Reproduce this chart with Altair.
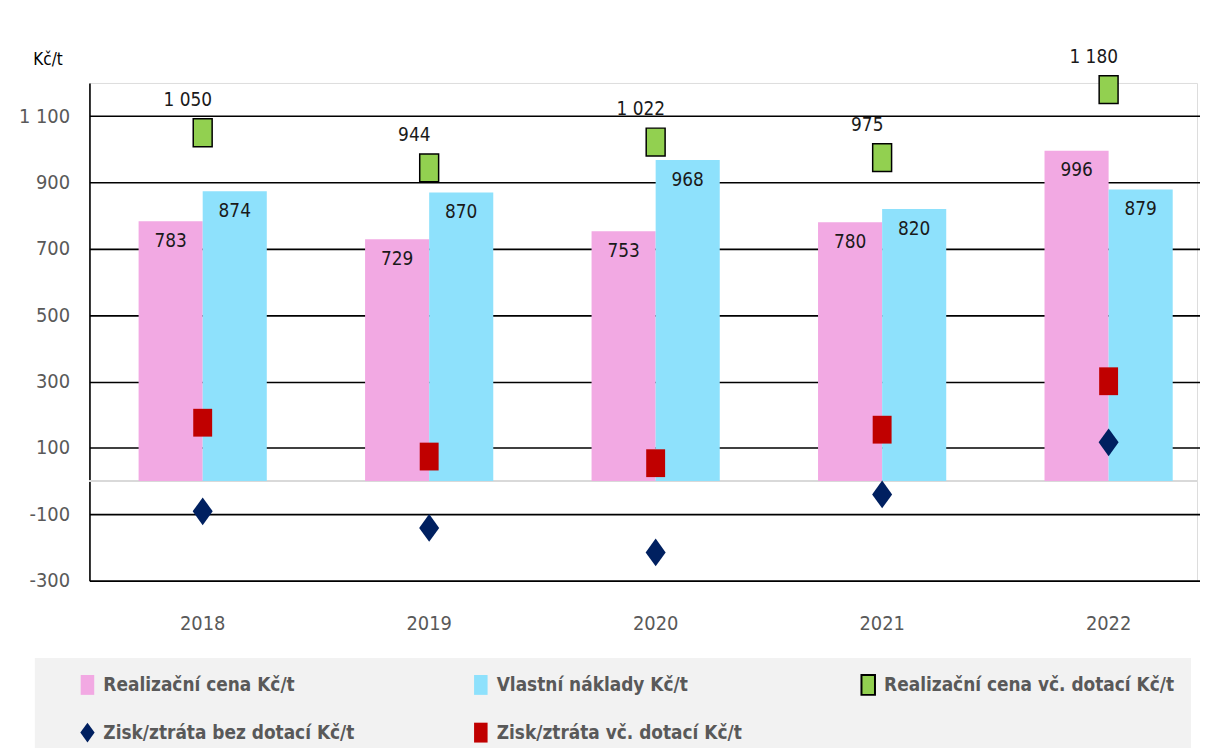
import altair as alt
import pandas as pd

years = ["2018", "2019", "2020", "2021", "2022"]
realizacni_cena = [783, 729, 753, 780, 996]
vlastni_naklady = [874, 870, 968, 820, 879]
realizacni_cena_dotace = [1050, 944, 1022, 975, 1180]
zisk_bez_dotaci = [-91, -141, -215, -40, 117]
zisk_vc_dotaci = [176, 74, 54, 155, 301]

series_names = [
    "Realizační cena Kč/t",
    "Vlastní náklady Kč/t",
    "Realizační cena vč. dotací Kč/t",
    "Zisk/ztráta bez dotací Kč/t",
    "Zisk/ztráta vč. dotací Kč/t",
]
series_values = [realizacni_cena, vlastni_naklady, realizacni_cena_dotace,
                 zisk_bez_dotaci, zisk_vc_dotaci]

rows = []
for name, vals in zip(series_names, series_values):
    for y, v in zip(years, vals):
        rows.append({"rok": y, "serie": name, "hodnota": v})
df = pd.DataFrame(rows)

colors = ["#F2A9E3", "#8EE1FC", "#92D050", "#002060", "#C00000"]
rect = "M-0.68,-1H0.68V1H-0.68Z"
diamond = "M0,-1L0.72,0L0,1L-0.72,0Z"
shapes = [rect, rect, rect, diamond, rect]
strokes = ["transparent", "transparent", "#000000", "transparent", "transparent"]

# legend is laid out column by column: reorder so rows read as in the original
legend_order = [0, 3, 1, 4, 2]
leg_domain = [series_names[i] for i in legend_order]
leg_colors = [colors[i] for i in legend_order]
leg_shapes = [shapes[i] for i in legend_order]
leg_strokes = [strokes[i] for i in legend_order]

FONT = "'Liberation Sans Narrow', 'DejaVu Sans Condensed', 'Roboto Condensed', Roboto, sans-serif"
GRAY = "#595959"
NUMFMT = "replace(replace(format(datum.value, ','), ',', ' '), '\u2212', '-')"

xscale = alt.Scale(domain=years, range=[0, 1140], paddingInner=0.434, paddingOuter=0.217)
yscale = alt.Scale(domain=[-300, 1200], nice=False, zero=False)

color_enc = alt.Color(
    "serie:N",
    scale=alt.Scale(domain=leg_domain, range=leg_colors),
    legend=alt.Legend(
        title="\u00a0", titleOrient="left", titlePadding=26,
        orient="none", legendX=-55, legendY=579,
        columns=3, columnPadding=116, rowPadding=20,
        fillColor="#F2F2F2", padding=16,
        labelFont=FONT, labelFontSize=19, labelFontWeight="bold", labelColor=GRAY,
        labelOffset=5, symbolSize=400, symbolStrokeWidth=2, labelLimit=400,
    ),
)
shape_enc = alt.Shape("serie:N", scale=alt.Scale(domain=leg_domain, range=leg_shapes))
stroke_enc = alt.Stroke("serie:N", scale=alt.Scale(domain=leg_domain, range=leg_strokes))

base = alt.Chart(df)

bars_df = base.transform_filter(
    alt.FieldOneOfPredicate(field="serie", oneOf=series_names[:2])
)
xoff = alt.XOffset("serie:N", scale=alt.Scale(domain=series_names[:2], paddingInner=0, paddingOuter=0))

zero_rule = alt.Chart(df).mark_rule(color="#D9D9D9", strokeWidth=2).encode(
    y=alt.datum(0, scale=yscale)
)

bars = bars_df.mark_bar().encode(
    x=alt.X("rok:N", scale=xscale, title=None,
            axis=alt.Axis(domain=False, ticks=False, labelPadding=33, labelFont=FONT,
                          labelFontSize=20, labelColor=GRAY, labelAngle=0, grid=False)),
    xOffset=xoff,
    y=alt.Y("hodnota:Q", scale=yscale, title="Kč/t",
            axis=alt.Axis(values=[-300, -100, 100, 300, 500, 700, 900, 1100],
                          labelExpr=NUMFMT,
                          grid=True, gridColor="#000000", gridWidth=1.6,
                          domain=True, domainColor="#000000", domainWidth=1.6,
                          ticks=False, labelPadding=20, labelFont=FONT, labelFontSize=20,
                          labelColor=GRAY, titleAngle=0, titleX=-57, titleY=-15,
                          titleFont=FONT, titleFontSize=17, titleFontWeight="normal",
                          titleColor="#000000", titleAlign="left")),
    color=color_enc,
)

bar_labels = bars_df.mark_text(font=FONT, fontSize=19, color="#1a1a1a", dy=20,
                               baseline="middle").encode(
    x=alt.X("rok:N", scale=xscale),
    xOffset=xoff,
    y=alt.Y("hodnota:Q", scale=yscale),
    text=alt.Text("hodnota:Q"),
)

points = base.transform_filter(
    alt.FieldOneOfPredicate(field="serie", oneOf=series_names[2:])
).mark_point(filled=True, size=784, strokeWidth=1.5, opacity=1).encode(
    x=alt.X("rok:N", scale=xscale),
    y=alt.Y("hodnota:Q", scale=yscale),
    color=color_enc,
    shape=shape_enc,
    stroke=stroke_enc,
)

green_labels = base.transform_filter(
    alt.datum.serie == series_names[2]
).transform_calculate(
    popis="replace(format(datum.hodnota, ','), ',', ' ')"
).mark_text(font=FONT, fontSize=19, color="#1a1a1a", dy=-33, dx=-15,
            baseline="middle").encode(
    x=alt.X("rok:N", scale=xscale),
    y=alt.Y("hodnota:Q", scale=yscale),
    text="popis:N",
)

chart = alt.layer(zero_rule, bars, bar_labels, points, green_labels).properties(
    width=1115, height=501,
    autosize=alt.AutoSizeParams(type="none"),
    padding={"left": 82, "top": 73, "right": 3, "bottom": 166},
).configure_view(stroke=None).configure(background="white")

chart.save("out.html", embed_options={"renderer": "svg", "actions": False})
